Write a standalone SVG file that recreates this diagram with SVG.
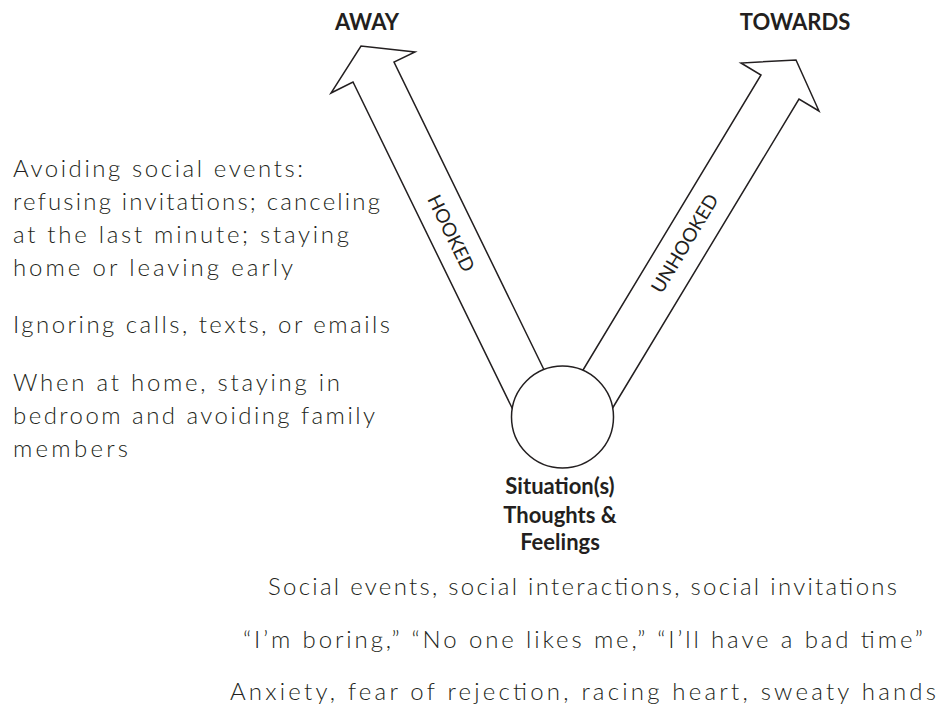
<svg xmlns="http://www.w3.org/2000/svg" width="939" height="711" viewBox="0 0 939 711">
  <style>
    .bg { fill: #ffffff; }
    .line { fill: none; stroke: #231f20; stroke-width: 1.5; stroke-linejoin: miter; }
    .circ { fill: #ffffff; stroke: #231f20; stroke-width: 1.5; }
    .bold { font-family: Lato, "Liberation Sans", sans-serif; font-weight: 700; font-size: 22px; fill: #231f20; text-anchor: middle; }
    .lbl { font-family: Lato, "Liberation Sans", sans-serif; font-weight: 400; font-size: 19px; fill: #231f20; text-anchor: middle; dominant-baseline: central; }
    .hw { font-family: Lato, "DejaVu Sans", sans-serif; font-weight: 300; font-size: 24px; fill: #231f20; }
  </style>
  <rect class="bg" x="0" y="0" width="939" height="711"/>

  <g id="connectors">
    <polyline id="arrow-away" class="line" points="515,414 353,82 331,93 361,46 415,52 394,62 549,380"/>
    <polyline id="arrow-towards" class="line" points="577,380 761,75 741,63 796,60 819,111 799,99 609,414"/>
    <text class="lbl" transform="translate(452,233) rotate(64)">HOOKED</text>
    <text class="lbl" transform="translate(684,243) rotate(-59)">UNHOOKED</text>
  </g>

  <g id="node-away">
    <text class="bold" x="367" y="30">AWAY</text>
  </g>

  <g id="node-towards">
    <text class="bold" x="795" y="30">TOWARDS</text>
  </g>

  <g id="node-situation">
    <circle class="circ" cx="562.5" cy="417" r="51"/>
    <text class="bold" x="560" y="494">Situation(s)</text>
    <text class="bold" x="560" y="523">Thoughts &amp;</text>
    <text class="bold" x="560" y="550">Feelings</text>
  </g>

  <g id="away-behaviours">
    <text class="hw" x="13" y="177" textLength="290" lengthAdjust="spacing">Avoiding social events:</text>
    <text class="hw" x="13" y="210" textLength="367" lengthAdjust="spacing">refusing invitations; canceling</text>
    <text class="hw" x="13" y="243" textLength="336" lengthAdjust="spacing">at the last minute; staying</text>
    <text class="hw" x="13" y="276" textLength="280" lengthAdjust="spacing">home or leaving early</text>
    <text class="hw" x="13" y="333" textLength="377" lengthAdjust="spacing">Ignoring calls, texts, or emails</text>
    <text class="hw" x="13" y="391" textLength="327" lengthAdjust="spacing">When at home, staying in</text>
    <text class="hw" x="13" y="424" textLength="362" lengthAdjust="spacing">bedroom and avoiding family</text>
    <text class="hw" x="13" y="457" textLength="115" lengthAdjust="spacing">members</text>
  </g>

  <g id="situation-details">
    <text class="hw" x="268" y="595" textLength="629" lengthAdjust="spacing">Social events, social interactions, social invitations</text>
    <text class="hw" x="243" y="648" textLength="680" lengthAdjust="spacing">“I’m boring,” “No one likes me,” “I’ll have a bad time”</text>
    <text class="hw" x="230" y="700" textLength="706" lengthAdjust="spacing">Anxiety, fear of rejection, racing heart, sweaty hands</text>
  </g>
</svg>
